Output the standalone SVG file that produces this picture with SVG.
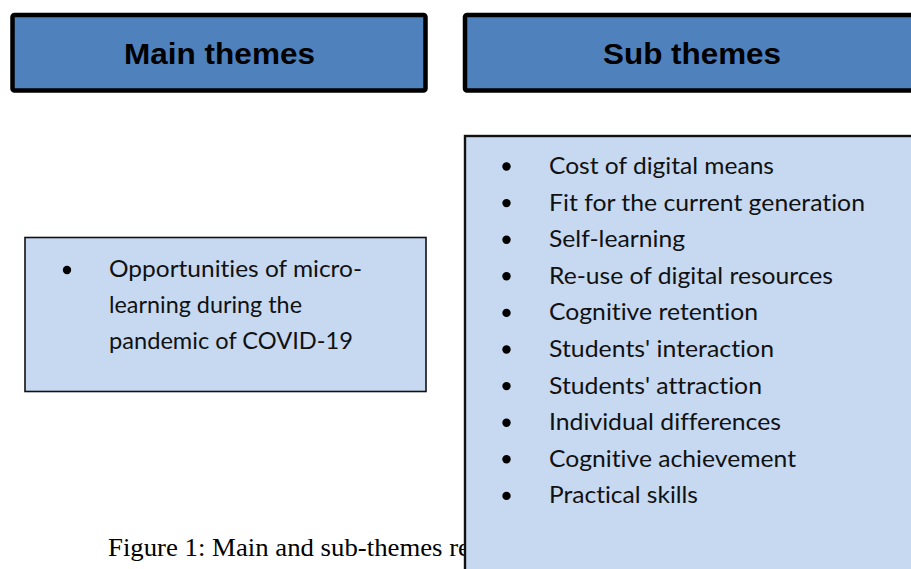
<svg xmlns="http://www.w3.org/2000/svg" width="911" height="569" viewBox="0 0 911 569">
  <style>
    .header { fill: #4F81BD; stroke: #000; stroke-width: 4.5; }
    .panel { fill: #C6D9F1; stroke: #111; }
    .title { font-family: "Liberation Sans", Arial, sans-serif; font-weight: bold; font-size: 29px; fill: #000; text-anchor: middle; }
    .item { font-family: Lato, "Open Sans", sans-serif; font-size: 24px; fill: #111; font-variant-ligatures: none; }
    .bullet { fill: #000; }
    .caption { font-family: "Liberation Serif", "Times New Roman", serif; font-size: 25px; fill: #000; }
  </style>

  <rect width="911" height="569" fill="#fff"/>

  <!-- caption sits under the sub-theme panel -->
  <text class="caption" x="108" y="556" textLength="362" lengthAdjust="spacingAndGlyphs">Figure 1: Main and sub-themes re</text>

  <g id="main-header">
    <rect class="header" x="12.5" y="15" width="413" height="75.5" rx="2"/>
    <text class="title" x="219.5" y="64" textLength="191" lengthAdjust="spacingAndGlyphs">Main themes</text>
  </g>

  <g id="sub-header">
    <rect class="header" x="465" y="15" width="460" height="75.5" rx="2"/>
    <text class="title" x="692" y="64" textLength="178" lengthAdjust="spacingAndGlyphs">Sub themes</text>
  </g>

  <g id="main-theme">
    <rect class="panel" x="25" y="237.5" width="401" height="154" stroke-width="1.6"/>
    <circle class="bullet" cx="67" cy="270" r="4.2"/>
    <text class="item" x="109" y="277" textLength="253" lengthAdjust="spacingAndGlyphs">Opportunities of micro-</text>
    <text class="item" x="109" y="313" textLength="193" lengthAdjust="spacingAndGlyphs">learning during the</text>
    <text class="item" x="109" y="349" textLength="244" lengthAdjust="spacingAndGlyphs">pandemic of COVID-19</text>
  </g>

  <g id="sub-themes">
    <rect class="panel" x="465" y="136" width="460" height="450" stroke-width="2.4"/>
    <circle class="bullet" cx="506.5" cy="166.5" r="4.2"/>
    <text class="item" x="549" y="174" textLength="225" lengthAdjust="spacingAndGlyphs">Cost of digital means</text>
    <circle class="bullet" cx="506.5" cy="203.1" r="4.2"/>
    <text class="item" x="549" y="210.6" textLength="316" lengthAdjust="spacingAndGlyphs">Fit for the current generation</text>
    <circle class="bullet" cx="506.5" cy="239.7" r="4.2"/>
    <text class="item" x="549" y="247.2" textLength="136" lengthAdjust="spacingAndGlyphs">Self-learning</text>
    <circle class="bullet" cx="506.5" cy="276.3" r="4.2"/>
    <text class="item" x="549" y="283.8" textLength="284" lengthAdjust="spacingAndGlyphs">Re-use of digital resources</text>
    <circle class="bullet" cx="506.5" cy="312.9" r="4.2"/>
    <text class="item" x="549" y="320.4" textLength="209" lengthAdjust="spacingAndGlyphs">Cognitive retention</text>
    <circle class="bullet" cx="506.5" cy="349.5" r="4.2"/>
    <text class="item" x="549" y="357" textLength="225" lengthAdjust="spacingAndGlyphs">Students' interaction</text>
    <circle class="bullet" cx="506.5" cy="386.1" r="4.2"/>
    <text class="item" x="549" y="393.6" textLength="213" lengthAdjust="spacingAndGlyphs">Students' attraction</text>
    <circle class="bullet" cx="506.5" cy="422.7" r="4.2"/>
    <text class="item" x="549" y="430.2" textLength="232" lengthAdjust="spacingAndGlyphs">Individual differences</text>
    <circle class="bullet" cx="506.5" cy="459.3" r="4.2"/>
    <text class="item" x="549" y="466.8" textLength="247" lengthAdjust="spacingAndGlyphs">Cognitive achievement</text>
    <circle class="bullet" cx="506.5" cy="495.9" r="4.2"/>
    <text class="item" x="549" y="503.4" textLength="149" lengthAdjust="spacingAndGlyphs">Practical skills</text>
  </g>
</svg>
